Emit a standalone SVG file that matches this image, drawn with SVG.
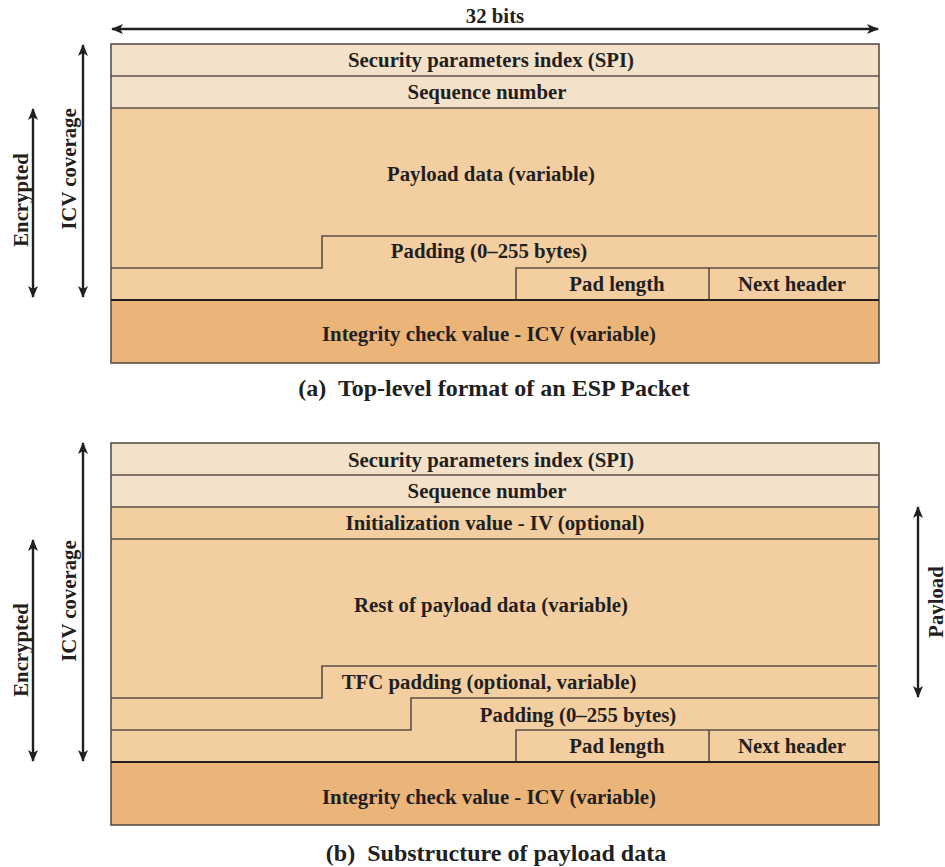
<svg xmlns="http://www.w3.org/2000/svg" width="945" height="867" viewBox="0 0 945 867">
<defs>
<marker id="ah" viewBox="0 0 12 10" refX="11" refY="5" markerWidth="12" markerHeight="10" markerUnits="userSpaceOnUse" orient="auto-start-reverse">
<path d="M0,0 L12,5 L0,10 L3,5 z" fill="#231f20"/>
</marker>
</defs>
<style>
text{font-family:"Liberation Serif","Times New Roman",serif;font-weight:bold;fill:#231f20;text-anchor:middle;dominant-baseline:central;white-space:pre}
.f{font-size:20.8px}
.cap{font-size:24px}
.lt{fill:#f3e2c9}
.md{fill:#f3cea0}
.dk{fill:#ebb478}
.ln{stroke:#5a5047;stroke-width:1.6;fill:none}
.bl{stroke:#231f20;stroke-width:2.2;fill:none}
.ar{stroke:#231f20;stroke-width:2.4;fill:none;marker-start:url(#ah);marker-end:url(#ah)}
</style>
<rect width="945" height="867" fill="#fff"/>

<g id="top-packet">
<rect class="lt" x="111" y="44" width="768" height="64"/>
<rect class="md" x="111" y="108" width="768" height="192"/>
<rect class="dk" x="111" y="300" width="768" height="63"/>
<rect class="ln" x="111" y="44" width="768" height="319"/>
<line class="ln" x1="111" y1="76" x2="879" y2="76"/>
<line class="ln" x1="111" y1="108" x2="879" y2="108"/>
<polyline class="ln" points="111,268 322,268 322,236 877,236"/>
<polyline class="ln" points="516,300 516,268 879,268"/>
<line class="ln" x1="709" y1="268" x2="709" y2="300"/>
<line class="bl" x1="111" y1="300" x2="879" y2="300"/>
<text class="f" x="491" y="59">Security parameters index (SPI)</text>
<text class="f" x="487" y="91">Sequence number</text>
<text class="f" x="491" y="173">Payload data (variable)</text>
<text class="f" x="489" y="250">Padding (0–255 bytes)</text>
<text class="f" x="617" y="283">Pad length</text>
<text class="f" x="792" y="283">Next header</text>
<text class="f" x="489" y="333">Integrity check value - ICV (variable)</text>
</g>

<g id="bottom-packet">
<rect class="lt" x="111" y="443" width="768" height="64"/>
<rect class="md" x="111" y="507" width="768" height="255"/>
<rect class="dk" x="111" y="762" width="768" height="63"/>
<rect class="ln" x="111" y="443" width="768" height="382"/>
<line class="ln" x1="111" y1="475" x2="879" y2="475"/>
<line class="ln" x1="111" y1="507" x2="879" y2="507"/>
<line class="ln" x1="111" y1="539" x2="879" y2="539"/>
<polyline class="ln" points="111,698 322,698 322,666 877,666"/>
<polyline class="ln" points="111,730 411,730 411,698 879,698"/>
<polyline class="ln" points="516,762 516,730 879,730"/>
<line class="ln" x1="709" y1="730" x2="709" y2="762"/>
<line class="bl" x1="111" y1="762" x2="879" y2="762"/>
<text class="f" x="491" y="459">Security parameters index (SPI)</text>
<text class="f" x="487" y="490">Sequence number</text>
<text class="f" x="495" y="522">Initialization value - IV (optional)</text>
<text class="f" x="491" y="604">Rest of payload data (variable)</text>
<text class="f" x="489" y="681">TFC padding (optional, variable)</text>
<text class="f" x="578" y="714">Padding (0–255 bytes)</text>
<text class="f" x="617" y="745">Pad length</text>
<text class="f" x="792" y="745">Next header</text>
<text class="f" x="489" y="796">Integrity check value - ICV (variable)</text>
</g>

<g id="connectors">
<line class="ar" x1="112" y1="29" x2="878" y2="29"/>
<line class="ar" x1="33" y1="109" x2="33" y2="297"/>
<line class="ar" x1="83" y1="45" x2="83" y2="297"/>
<line class="ar" x1="33" y1="540" x2="33" y2="761"/>
<line class="ar" x1="83" y1="443" x2="83" y2="761"/>
<line class="ar" x1="918" y1="507" x2="918" y2="697"/>
</g>

<g id="labels">
<text class="f" x="495" y="15">32 bits</text>
<text class="f" transform="translate(20,200) rotate(-90)">Encrypted</text>
<text class="f" transform="translate(68,169) rotate(-90)">ICV coverage</text>
<text class="f" transform="translate(20,650) rotate(-90)">Encrypted</text>
<text class="f" transform="translate(68,601) rotate(-90)">ICV coverage</text>
<text class="f" transform="translate(935,602) rotate(-90)">Payload</text>
<text class="cap" x="494" y="388">(a)  Top-level format of an ESP Packet</text>
<text class="cap" x="496" y="853">(b)  Substructure of payload data</text>
</g>
</svg>
